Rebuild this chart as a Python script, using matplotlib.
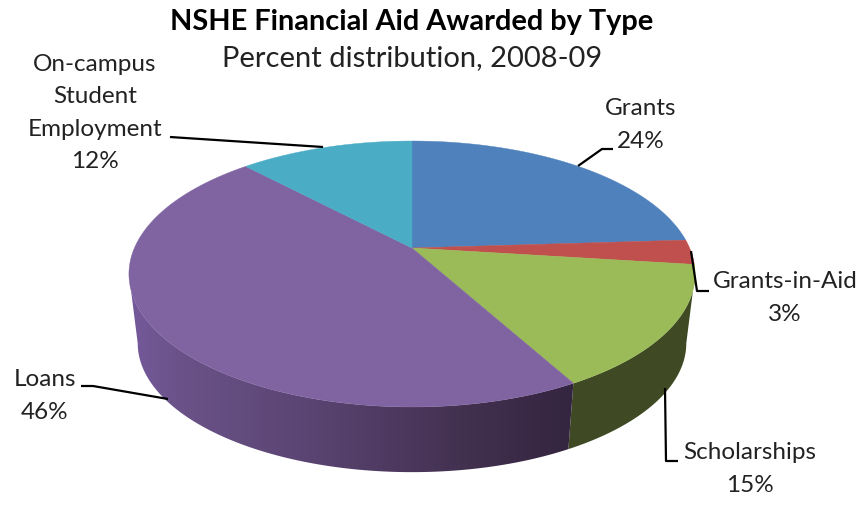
import numpy as np
import matplotlib
matplotlib.use('Agg')
import matplotlib.pyplot as plt
from matplotlib.patches import Polygon
from matplotlib.colors import LinearSegmentedColormap

categories = ['Grants', 'Grants-in-Aid', 'Scholarships', 'Loans', 'On-campus\nStudent\nEmployment']
percents = [24, 3, 15, 46, 12]
top_colors = ['#4f81bd', '#c0504d', '#9bbb59', '#8064a2', '#4bacc6']

# label centre in pixels, and the leader line running to the slice
label_pos = [(641, 125), (785, 298), (750, 469), (45, 396), (95, 113)]
leaders = [
    [(578, 166), (602, 149), (613, 149)],
    [(691, 251), (697, 291), (709, 291)],
    [(665, 388), (666, 461), (678, 461)],
    [(81, 386), (93, 386), (168, 399)],
    [(170, 137), (323, 147)],
]

plt.rcParams['font.family'] = ['Lato', 'DejaVu Sans']

K = 0.1955


def project(theta, cx, cy, a, b):
    # theta runs clockwise from 12 o'clock, K gives the perspective
    x = np.sin(theta)
    y = np.cos(theta)
    d = 1 + K * y
    return cx + a * x / d, cy - b * y / d


def top(theta):
    return project(theta, 412, 248, 277.6, 127.9)


def bottom(theta):
    return project(theta, 412, 318, 269, 124)


def rim_patch(t0, t1, color):
    t = np.linspace(t0, t1, 200)
    xt, yt = top(t)
    xb, yb = bottom(t)
    rim = Polygon(np.c_[np.r_[xt, xb[::-1]], np.r_[yt, yb[::-1]]], closed=True, zorder=1,
                  facecolor=color, edgecolor='none')
    ax.add_patch(rim)
    return rim


fig = plt.figure(figsize=(8.58, 5.31), dpi=100)
ax = fig.add_axes([0, 0, 1, 1])

edges = np.cumsum([0] + percents) / sum(percents) * 2 * np.pi

# widest points of the projected disc, the rim stops there
right_end = np.arccos(-K)
left_end = 2 * np.pi - right_end

rim_patch(right_end, edges[3], '#3f4a24')

# the loans rim darkens from left to right
loans_cmap = LinearSegmentedColormap.from_list(
    'loans_side', [(0, '#75599c'), (0.1, '#6b5389'), (0.4, '#5a4472'), (0.75, '#42304f'), (1, '#33243f')])
rim = rim_patch(edges[3], left_end, 'none')
im = ax.imshow(np.linspace(0, 1, 256).reshape(1, -1), cmap=loans_cmap,
               extent=(130, 580, 531, 0), aspect='auto', zorder=1)
im.set_clip_path(rim)

ax.set_xlim(0, 858)
ax.set_ylim(531, 0)
ax.axis('off')

# top face
for i, color in enumerate(top_colors):
    t = np.linspace(edges[i], edges[i + 1], 200)
    xs, ys = top(t)
    ax.fill(np.r_[412, xs], np.r_[248, ys], color=color, lw=0.3, zorder=2)

for line in leaders:
    ax.plot([p[0] for p in line], [p[1] for p in line], color='black', lw=1.6, zorder=3,
            solid_capstyle='butt')

for i, name in enumerate(categories):
    ax.text(label_pos[i][0], label_pos[i][1], f'{name}\n{percents[i]}%',
            ha='center', va='center', fontsize=17.5, color='#222222', linespacing=1.66, zorder=4)

ax.text(412, 22, 'NSHE Financial Aid Awarded by Type', ha='center', va='center',
        fontsize=20.8, fontweight='bold', color='black')
ax.text(412, 58, 'Percent distribution, 2008-09', ha='center', va='center',
        fontsize=21, color='#222222')

fig.savefig('out.png', dpi=100)
